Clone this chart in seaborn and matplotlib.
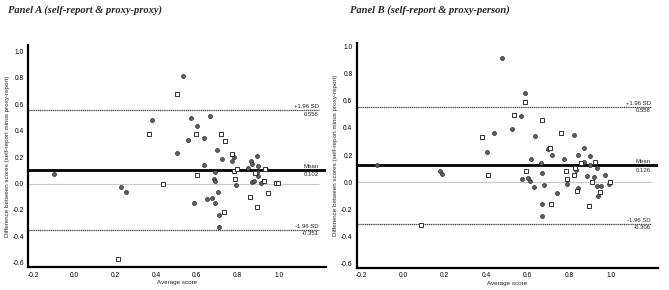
import matplotlib
matplotlib.use("Agg")
import matplotlib.pyplot as plt
import seaborn as sns
import pandas as pd

# ---- data ----
a_circle_x = [-0.096, 0.229, 0.252, 0.379, 0.501, 0.533, 0.571, 0.663, 0.603, 0.558, 0.633, 0.696, 0.725,
              0.772, 0.780, 0.896, 0.863, 0.868, 0.901, 0.637, 0.691, 0.852, 0.896, 0.937, 0.901, 0.686,
              0.691, 0.789, 0.868, 0.881, 0.914, 0.701, 0.584, 0.649, 0.675, 0.688, 0.706, 0.706]
a_circle_y = [0.072, -0.027, -0.064, 0.481, 0.233, 0.817, 0.494, 0.514, 0.438, 0.330, 0.347, 0.251, 0.188,
              0.173, 0.203, 0.208, 0.173, 0.150, 0.133, 0.140, 0.089, 0.117, 0.089, 0.110, 0.057, 0.032,
              0.021, -0.011, 0.009, 0.021, 0.004, -0.062, -0.145, -0.120, -0.112, -0.145, -0.241, -0.330]
a_square_x = [0.213, 0.364, 0.436, 0.504, 0.595, 0.720, 0.737, 0.771, 0.780, 0.797, 0.601, 0.785, 0.885,
              0.930, 0.987, 0.998, 0.948, 0.859, 0.735, 0.894, 0.932]
a_square_y = [-0.570, 0.375, -0.001, 0.676, 0.375, 0.377, 0.324, 0.226, 0.097, 0.112, 0.062, 0.032, 0.082,
              0.021, 0.006, 0.006, -0.074, -0.105, -0.216, -0.178, 0.110]

b_circle_x = [-0.127, 0.176, 0.188, 0.402, 0.438, 0.477, 0.525, 0.570, 0.588, 0.636, 0.697, 0.618, 0.665,
              0.671, 0.575, 0.602, 0.612, 0.633, 0.681, 0.668, 0.667, 0.825, 0.871, 0.718, 0.845, 0.902,
              0.773, 0.871, 0.902, 0.936, 0.829, 0.833, 0.886, 0.919, 0.971, 0.792, 0.992, 0.934, 0.952,
              0.845, 0.741, 0.941]
b_circle_y = [0.127, 0.079, 0.059, 0.221, 0.363, 0.917, 0.390, 0.488, 0.657, 0.340, 0.245, 0.171, 0.142,
              0.068, 0.020, 0.032, 0.010, -0.034, -0.022, -0.160, -0.252, 0.346, 0.255, 0.204, 0.204, 0.193,
              0.169, 0.149, 0.127, 0.108, 0.108, 0.093, 0.044, 0.042, 0.051, -0.012, -0.010, -0.027, -0.029,
              -0.042, -0.083, -0.105]
b_square_x = [0.087, 0.378, 0.407, 0.535, 0.588, 0.668, 0.593, 0.762, 0.709, 0.857, 0.923, 0.787, 0.825,
              0.792, 0.910, 0.997, 0.839, 0.949, 0.713, 0.897, 0.826]
b_square_y = [-0.318, 0.336, 0.054, 0.493, 0.590, 0.461, 0.086, 0.360, 0.255, 0.140, 0.152, 0.086, 0.056,
              0.022, -0.002, 0.002, -0.064, -0.073, -0.164, -0.176, 0.105]

titles = ["Panel A (self-report & proxy-proxy)", "Panel B (self-report & proxy-person)"]
means = [0.102, 0.126]
upper = [0.556, 0.558]
lower = [-0.351, -0.306]
xticks = [-0.2, 0.0, 0.2, 0.4, 0.6, 0.8, 1.0]
yticks = [-0.6, -0.4, -0.2, 0.0, 0.2, 0.4, 0.6, 0.8, 1.0]
xlabel = "Average score"
ylabel = "Difference between scores (self-report minus proxy-report)"

sns.set_style("white")
plt.rcParams['font.family'] = ['Liberation Sans', 'DejaVu Sans']

fig = plt.figure(figsize=(6.69, 2.90), dpi=100)
axA = fig.add_axes([0.0419, 0.078, 0.4451, 0.767])
axB = fig.add_axes([0.533, 0.075, 0.451, 0.778])

panels = [
    (axA, a_circle_x, a_circle_y, a_square_x, a_square_y),
    (axB, b_circle_x, b_circle_y, b_square_x, b_square_y),
]

title_x = [0.012, 0.523]
for i, (ax, cx, cy, sx, sy) in enumerate(panels):
    xmin, xmax = -0.225, 1.23
    xend = 1.195
    ax.set_xlim(xmin, xmax)
    ax.set_ylim(-0.635, 1.05 if i == 0 else 1.03)
    ax.hlines(0.0, xmin, xend, color="#c8c8c8", lw=0.8, zorder=1)
    ax.hlines(means[i], xmin, xmax, color="black", lw=2.0, zorder=2)
    ax.hlines([upper[i], lower[i]], xmin, xend, color="#444444", lw=0.9,
              linestyles=(0, (1, 0.5)), zorder=2)
    dfc = pd.DataFrame({"x": cx, "y": cy})
    dfs = pd.DataFrame({"x": sx, "y": sy})
    sns.scatterplot(data=dfc, x="x", y="y", ax=ax, marker="o", s=8, color="#606060",
                    edgecolor="#2a2a2a", linewidth=0.5, zorder=3)
    sns.scatterplot(data=dfs, x="x", y="y", ax=ax, marker="s", s=7, color="white",
                    edgecolor="#333333", linewidth=0.7, zorder=4)
    fs = 4.3
    ax.text(xend, upper[i] + 0.008, "+1.96 SD", ha="right", va="bottom", fontsize=fs)
    ax.text(xend, upper[i] - 0.012, f"{upper[i]:.3f}", ha="right", va="top", fontsize=fs)
    ax.text(xend, means[i] + 0.012, "Mean", ha="right", va="bottom", fontsize=fs)
    ax.text(xend, means[i] - 0.018, f"{means[i]:.3f}", ha="right", va="top", fontsize=fs)
    ax.text(xend, lower[i] + 0.008, "-1.96 SD", ha="right", va="bottom", fontsize=fs)
    ax.text(xend, lower[i] - 0.012, f"{lower[i]:.3f}", ha="right", va="top", fontsize=fs)

    ax.set_xticks(xticks)
    ax.set_xticklabels([f"{t:.1f}" for t in xticks])
    ax.set_yticks(yticks)
    ax.set_yticklabels([f"{t:.1f}" for t in yticks])
    ax.tick_params(direction="in", length=4, width=1.3, labelsize=4.8, pad=3, colors="black")
    ax.set_xlabel(xlabel, fontsize=4.5, labelpad=1)
    ax.set_ylabel(ylabel, fontsize=4.5, labelpad=2)
    for side in ["top", "right"]:
        ax.spines[side].set_visible(False)
    for side in ["left", "bottom"]:
        ax.spines[side].set_linewidth(1.6)
        ax.spines[side].set_color("black")
    ax.grid(False)
    fig.text(title_x[i], 0.965, titles[i], family=["Liberation Serif", "DejaVu Serif"],
             weight="bold", style="italic", fontsize=7.6, ha="left", va="center")

fig.savefig("out.png", dpi=100)
